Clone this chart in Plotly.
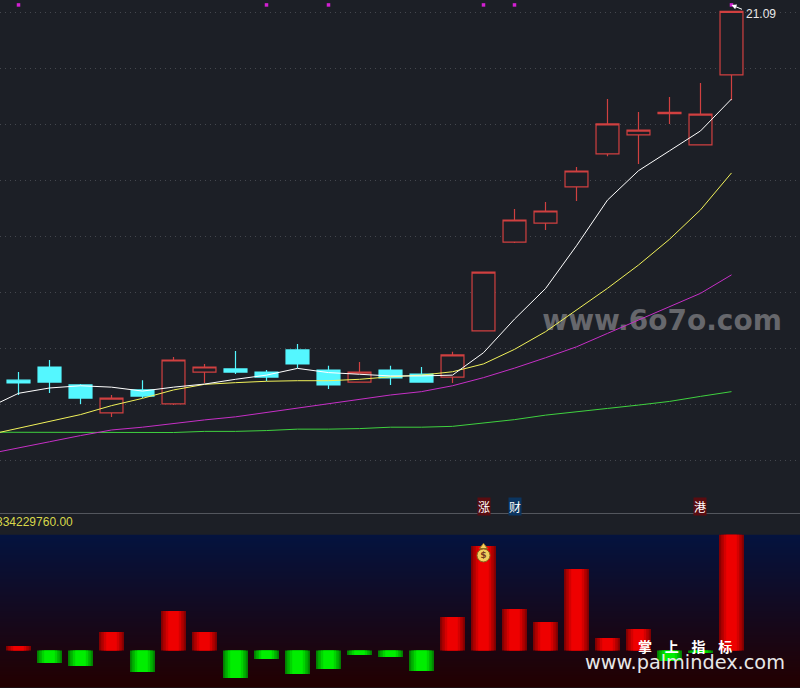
import plotly.graph_objects as go

# Candles: price units
idx = list(range(24))
opens = [7.92,8.39,7.75,6.75,7.57,7.07,8.21,8.32,8.21,9.00,8.28,7.85,8.28,8.14,8.03,9.68,12.85,13.53,14.82,16.00,16.68,17.44,16.32,18.82]
highs = [8.21,8.64,7.78,7.39,7.92,8.75,8.50,8.96,8.28,9.21,8.43,8.57,8.43,8.39,8.93,11.78,14.03,14.28,15.53,17.96,17.50,18.03,18.53,21.09]
lows = [7.39,7.46,7.07,6.60,7.28,7.03,7.82,8.14,7.89,8.35,7.60,7.85,7.75,7.85,7.82,9.68,12.82,13.28,14.32,15.92,15.64,17.07,16.32,17.92]
closes = [7.82,7.85,7.28,7.28,7.35,8.64,8.39,8.21,8.03,8.50,7.75,8.21,8.00,7.85,8.82,11.78,13.64,13.96,15.39,17.07,16.85,17.48,17.42,21.09]

# Moving averages start one session before the first visible candle
ma_idx = list(range(-1, 24))
ma5 = [6.92,7.45,7.64,7.72,7.67,7.53,7.67,7.78,7.95,8.10,8.34,8.19,8.13,8.07,8.07,8.10,8.90,10.10,11.19,12.72,14.35,15.40,16.11,16.82,17.96]
ma10 = [5.96,6.21,6.46,6.69,7.01,7.27,7.57,7.77,7.83,7.88,7.90,7.90,7.95,8.04,8.10,8.22,8.50,9.02,9.65,10.42,11.20,12.03,12.95,14.00,15.32]
ma20 = [5.28,5.49,5.72,5.94,6.14,6.24,6.38,6.50,6.61,6.77,6.91,7.07,7.24,7.39,7.51,7.72,8.01,8.35,8.72,9.11,9.59,10.07,10.54,11.02,11.68]
ma60 = [6.06,6.06,6.05,6.05,6.05,6.05,6.05,6.09,6.09,6.12,6.17,6.17,6.19,6.24,6.24,6.27,6.38,6.51,6.67,6.78,6.91,7.03,7.16,7.34,7.51]

# Lower panel, in millions
flow = [13,-36,-44.6,53.3,-61.9,113.8,53.3,-79.2,-24.5,-67.7,-53.3,-13,-18.7,-59,96.5,301,119.5,82.1,234.7,36,61.9,-30.2,-7.2,334.23]

signal_idx = [0,8,10,15,16,23]
signal_val = [21.32,21.32,21.32,21.32,21.32,21.32]
high_label = "21.09"
panel_label = "334229760.00"

BG = "#1c1f26"
fig = go.Figure()

# Gradient behind the lower panel
fig.add_trace(go.Heatmap(x=[-0.6, 25.3], y=[-108, 334.23], z=[[0, 0], [1, 1]], zsmooth="best",
                         zmin=0, zmax=1, showscale=False, hoverinfo="skip",
                         colorscale=[[0, "#230000"], [1, "#04133f"]], xaxis="x2", yaxis="y2"))

fig.add_trace(go.Candlestick(x=idx, open=opens, high=highs, low=lows, close=closes,
                             increasing=dict(line=dict(color="#d04040", width=1.2), fillcolor=BG),
                             decreasing=dict(line=dict(color="#54f7ff", width=1.2), fillcolor="#54f7ff"),
                             whiskerwidth=0, showlegend=False, xaxis="x", yaxis="y"))

# Watermark sits below the moving averages
fig.add_trace(go.Scatter(x=[20.76], y=[9.96], mode="text", text=["www.6o7o.com"], textposition="middle center",
                         textfont=dict(family="DejaVu Sans", size=28, color="#66676c", weight="bold"),
                         hoverinfo="skip", showlegend=False, xaxis="x", yaxis="y"))

for vals, col in [(ma60, "#3fd13f"), (ma20, "#c62fc6"), (ma10, "#f2f25a"), (ma5, "#ffffff")]:
    fig.add_trace(go.Scatter(x=ma_idx, y=vals, mode="lines", line=dict(color=col, width=1),
                             showlegend=False, xaxis="x", yaxis="y"))

fig.add_trace(go.Scatter(x=signal_idx, y=signal_val, mode="markers",
                         marker=dict(symbol="square", size=3.5, color="#d21fd2"),
                         showlegend=False, xaxis="x", yaxis="y"))

# Banded horizontal shading for the lower bars: wide dark layers under narrow bright ones
bands = [(0.80, "#8c0000", "#008c00"), (0.66, "#b00000", "#00b000"), (0.50, "#d40000", "#00d400"), (0.34, "#ee0000", "#00ee00")]
for w, red, green in bands:
    fig.add_trace(go.Bar(x=idx, y=flow, width=w,
                         marker=dict(color=[red if v > 0 else green for v in flow], line=dict(width=0)),
                         showlegend=False, xaxis="x2", yaxis="y2"))

# Money bag on the tall bar: knot above a round sack
fig.add_trace(go.Scatter(x=[15], y=[299], mode="markers",
                         marker=dict(symbol="triangle-up", size=7, color="#f2cf5e", line=dict(color="#8a6a20", width=1)),
                         showlegend=False, xaxis="x2", yaxis="y2"))
fig.add_trace(go.Scatter(x=[15], y=[274], mode="markers+text", text=["$"], textposition="middle center",
                         textfont=dict(size=9, color="#7a3a20", family="DejaVu Sans", weight="bold"),
                         marker=dict(symbol="circle", size=13, color="#f2cf5e", line=dict(color="#8a6a20", width=1)),
                         showlegend=False, xaxis="x2", yaxis="y2"))

xr = [-0.597, 25.21]
MARK_Y = (688 - 506) / 688
fig.update_layout(
    width=800, height=688, margin=dict(l=0, r=0, t=0, b=0),
    paper_bgcolor=BG, plot_bgcolor=BG, barmode="overlay", boxgap=0.26, boxgroupgap=0, showlegend=False,
    xaxis=dict(domain=[0, 1], range=xr, visible=False, rangeslider=dict(visible=False), showgrid=False, anchor="y"),
    yaxis=dict(domain=[0.2536, 1], range=[3.157, 21.496], tick0=1.05, dtick=2, showgrid=True,
               gridcolor="#44474e", griddash="1px,4px", gridwidth=1, zeroline=False,
               showticklabels=False, ticks="", showline=False, anchor="x"),
    xaxis2=dict(domain=[0, 1], range=xr, visible=False, showgrid=False, anchor="y2"),
    yaxis2=dict(domain=[0, 0.2231], range=[-108, 334.23], visible=False, showgrid=False, anchor="x2"),
    shapes=[dict(type="line", xref="paper", yref="paper", x0=0, x1=1, y0=0.2536, y1=0.2536,
                 line=dict(color="#55585f", width=1))],
    annotations=[
        dict(xref="x", yref="y", x=23, y=21.32, text="", showarrow=True, arrowhead=2, arrowsize=1, arrowwidth=1,
             arrowcolor="#ffffff", ax=12, ay=5, standoff=0),
        dict(xref="x", yref="y", x=23, y=21.09, text=high_label, xanchor="left", yanchor="middle",
             xshift=13, yshift=-3, showarrow=False, font=dict(family="Liberation Sans", size=12, color="#e8e8e8")),
        dict(xref="paper", yref="paper", x=75/800, y=(688-522)/688, text=panel_label, xanchor="right", yanchor="middle",
             showarrow=False, font=dict(family="Liberation Sans", size=12, color="#d8d84a")),
        dict(xref="x", yref="paper", x=15, y=MARK_Y, text="涨", showarrow=False, bgcolor="#5a0c10", borderpad=0,
             xanchor="center", yanchor="middle", font=dict(family="Noto Sans CJK SC", size=12, color="#ffffff")),
        dict(xref="x", yref="paper", x=16, y=MARK_Y, text="财", showarrow=False, bgcolor="#0b3560", borderpad=0,
             xanchor="center", yanchor="middle", font=dict(family="Noto Sans CJK SC", size=12, color="#ffffff")),
        dict(xref="x", yref="paper", x=22, y=MARK_Y, text="港", showarrow=False, bgcolor="#5a0c10", borderpad=0,
             xanchor="center", yanchor="middle", font=dict(family="Noto Sans CJK SC", size=12, color="#ffffff")),
        dict(xref="paper", yref="paper", x=685/800, y=(688-646)/688, text="掌    上    指    标", showarrow=False,
             xanchor="center", yanchor="middle", font=dict(family="Noto Sans CJK SC", size=14, color="#ffffff", weight="bold")),
        dict(xref="paper", yref="paper", x=685/800, y=(688-662)/688, text="www.palmindex.com", showarrow=False,
             xanchor="center", yanchor="middle", font=dict(family="DejaVu Sans", size=19.3, color="#e8e8e8")),
    ],
)
fig.write_html("out.html", config=dict(displayModeBar=False),
               post_script="document.body.style.margin='0';document.body.style.background='#1c1f26';")
